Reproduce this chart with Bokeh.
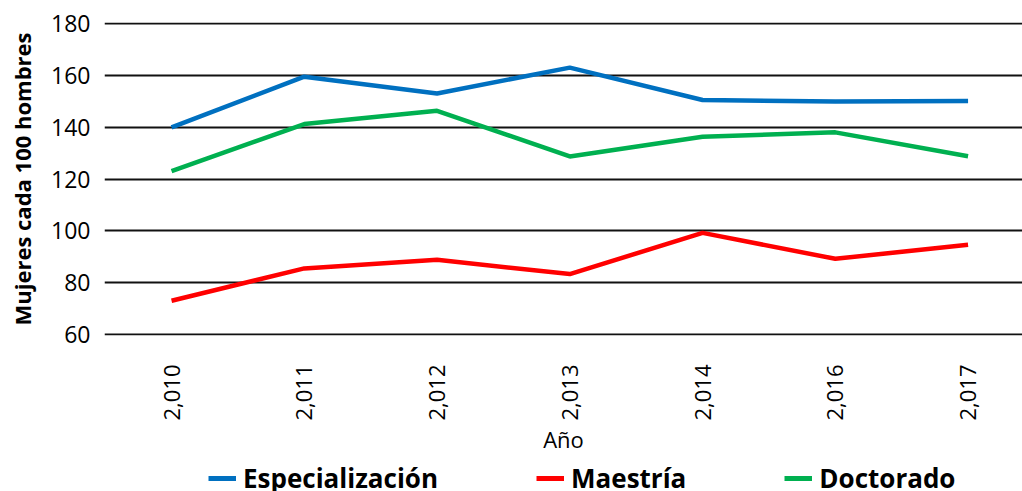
import math
from bokeh.plotting import figure
from bokeh.layouts import column
from bokeh.models import Range1d, FixedTicker, Legend, LegendItem
from bokeh.embed import file_html
from bokeh.resources import INLINE

years = ["2,010", "2,011", "2,012", "2,013", "2,014", "2,016", "2,017"]
especializacion = [139.9, 159.5, 153.0, 163.0, 150.5, 149.9, 150.1]
maestria = [73.0, 85.5, 88.8, 83.3, 99.2, 89.2, 94.6]
doctorado = [123.0, 141.2, 146.3, 128.7, 136.3, 138.0, 128.8]
y_ticks = [60, 80, 100, 120, 140, 160, 180]
series_names = ["Especialización", "Maestría", "Doctorado"]
series_colors = ["#0070C0", "#FF0000", "#00B050"]

xs = list(range(len(years)))

p = figure(frame_width=918, frame_height=313, output_backend="svg", toolbar_location=None,
           x_range=Range1d(-0.505, 6.41), y_range=Range1d(59.6, 180.4),
           min_border_left=104, min_border_right=0, min_border_top=22, min_border_bottom=0)
p.outline_line_color = None

for vals, col in zip([especializacion, maestria, doctorado], series_colors):
    p.line(xs, vals, line_color=col, line_width=4.5)

# grid
p.xgrid.grid_line_color = None
p.ygrid.ticker = FixedTicker(ticks=y_ticks)
p.ygrid.grid_line_color = "#111111"
p.ygrid.grid_line_width = 1.8

# x axis
p.xaxis.ticker = FixedTicker(ticks=xs)
p.xaxis.major_label_overrides = {i: lab for i, lab in enumerate(years)}
p.xaxis.major_label_orientation = math.pi / 2
p.xaxis.axis_line_color = None
p.xaxis.major_tick_line_color = None
p.xaxis.minor_tick_line_color = None
p.xaxis.major_tick_out = 0
p.xaxis.major_tick_in = 0
p.xaxis.major_label_standoff = 29
p.xaxis.major_label_text_font = "Open Sans"
p.xaxis.major_label_text_font_size = "22px"
p.xaxis.major_label_text_color = "black"
p.xaxis.axis_label = "Año"
p.xaxis.axis_label_text_font = "Open Sans"
p.xaxis.axis_label_text_font_style = "normal"
p.xaxis.axis_label_text_font_size = "22px"
p.xaxis.axis_label_text_color = "black"
p.xaxis.axis_label_standoff = 0

# y axis
p.yaxis.ticker = FixedTicker(ticks=y_ticks)
p.yaxis.axis_line_color = None
p.yaxis.major_tick_line_color = None
p.yaxis.minor_tick_line_color = None
p.yaxis.major_tick_out = 0
p.yaxis.major_tick_in = 0
p.yaxis.major_label_standoff = 14
p.yaxis.major_label_text_font = "Open Sans"
p.yaxis.major_label_text_font_size = "23px"
p.yaxis.major_label_text_color = "black"
p.yaxis.axis_label = "Mujeres cada 100 hombres"
p.yaxis.axis_label_text_font = "Open Sans"
p.yaxis.axis_label_text_font_style = "bold"
p.yaxis.axis_label_text_font_size = "22px"
p.yaxis.axis_label_text_color = "black"
p.yaxis.axis_label_standoff = 11

# legend strip below the chart (its frame is aligned with the main frame by the column)
lg = figure(width=1022, height=40, output_backend="svg", toolbar_location=None,
            x_range=Range1d(0, 1), y_range=Range1d(0, 1), min_border=0,
            x_axis_location=None, y_axis_location=None)
lg.grid.visible = False
lg.outline_line_color = None
items = []
for name, col in zip(series_names, series_colors):
    # legend-key renderer only: its point lies outside the visible range
    r = lg.line([5, 6], [5, 6], line_color=col, line_width=5)
    items.append(LegendItem(label=name, renderers=[r]))

legend = Legend(items=items, orientation="horizontal", location=(104, 0))
legend.label_text_font = "Open Sans"
legend.label_text_font_style = "bold"
legend.label_text_font_size = "26px"
legend.label_text_color = "black"
legend.label_height = 26
legend.glyph_height = 22
legend.glyph_width = 28
legend.label_standoff = 7
legend.spacing = 98
legend.padding = 0
legend.margin = 0
legend.border_line_color = None
legend.background_fill_alpha = 0
lg.add_layout(legend, "center")

layout = column(p, lg, spacing=0)
open("out.html", "w").write(file_html(layout, INLINE))
